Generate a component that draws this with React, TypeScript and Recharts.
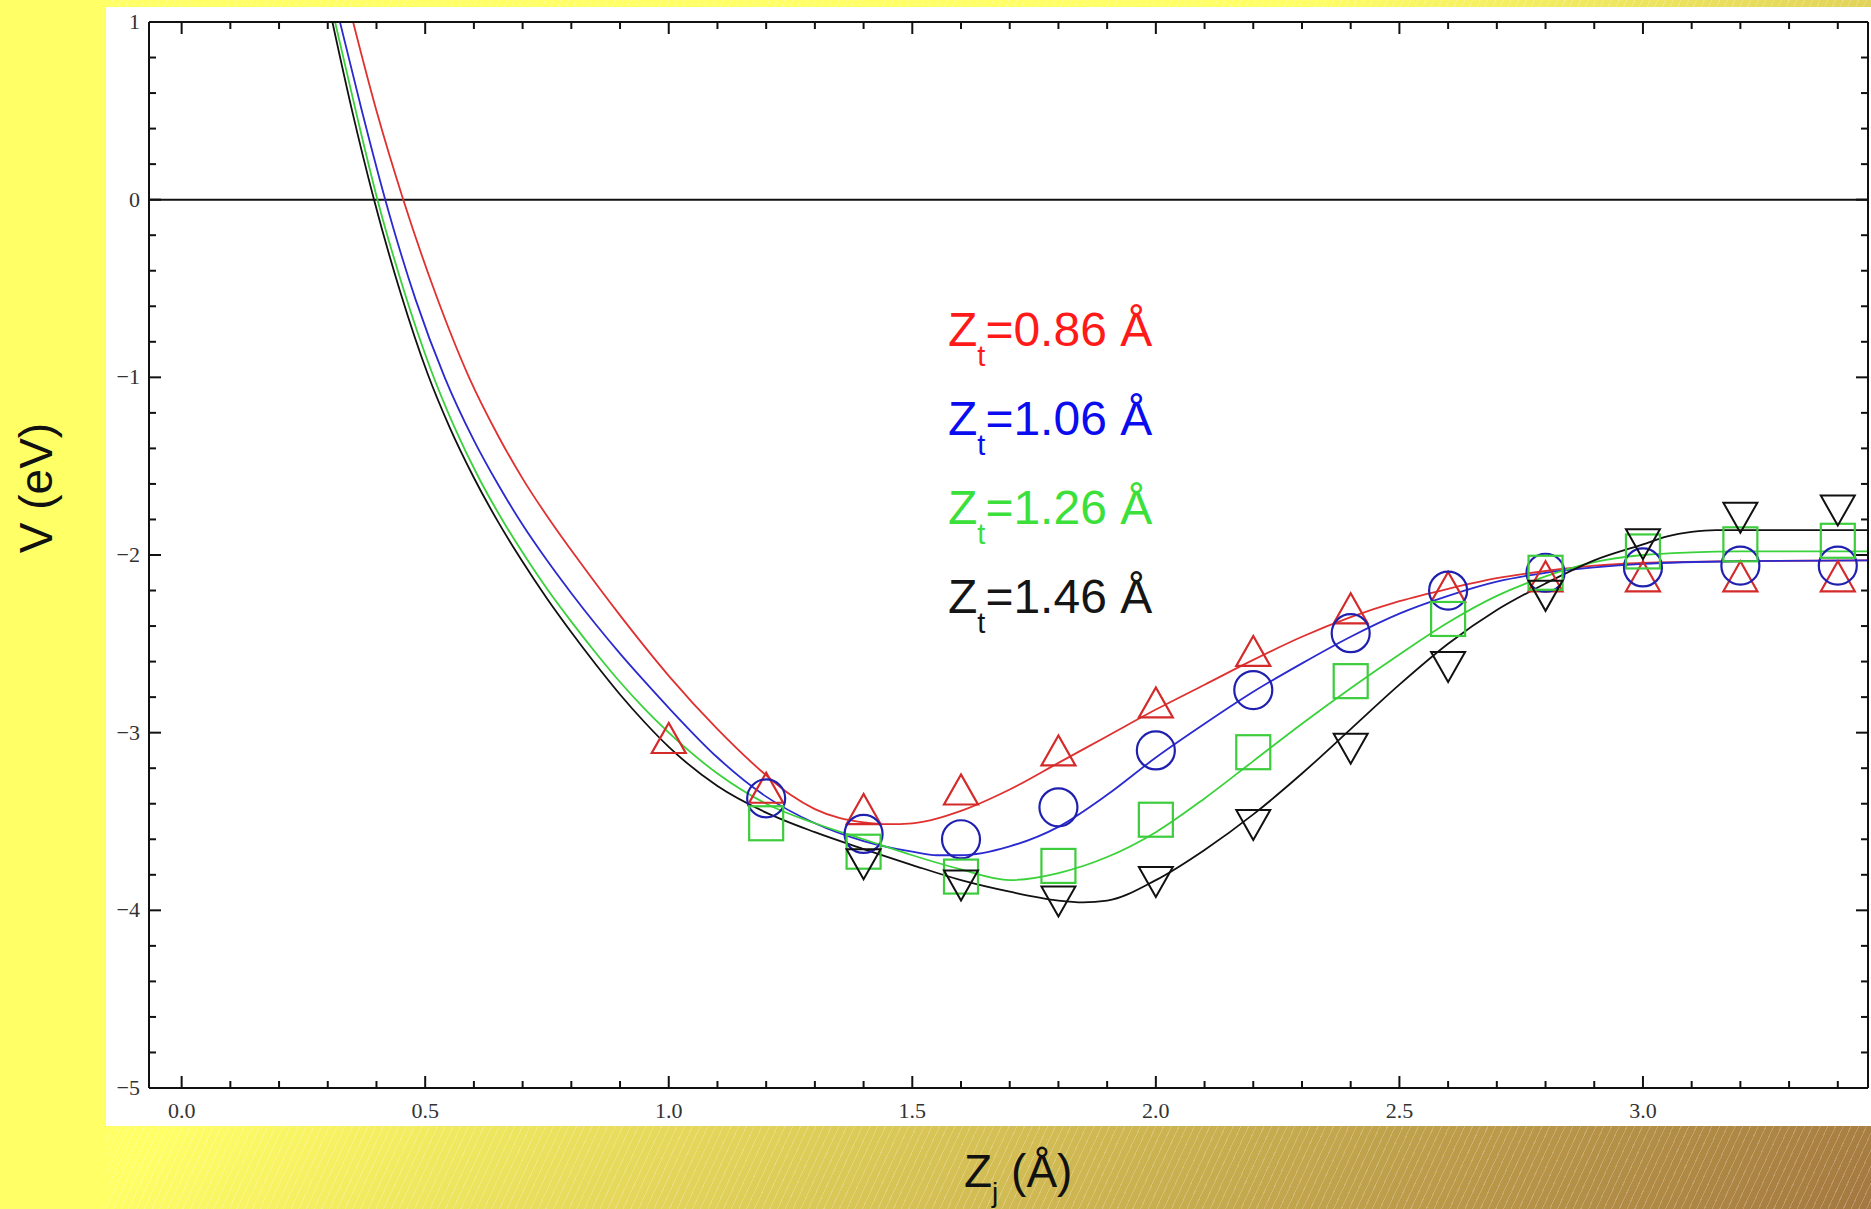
import React from "react";
import { ComposedChart, Line, Scatter, XAxis, YAxis, ReferenceLine } from "recharts";

// fitted curves
const redCurveX = [0.352, 0.4, 0.455, 0.52, 0.59, 0.65, 0.7, 0.76, 0.815, 0.9, 1.0, 1.1, 1.2, 1.25, 1.3, 1.35, 1.4, 1.45, 1.5, 1.6, 1.7, 1.8, 1.9, 2.0, 2.1, 2.2, 2.3, 2.4, 2.5, 2.6, 2.7, 2.8, 2.9, 3.0, 3.2, 3.46];
const redCurveY = [1.0, 0.5, 0.0, -0.52, -1.0, -1.33, -1.57, -1.82, -2.03, -2.34, -2.68, -2.98, -3.24, -3.35, -3.43, -3.48, -3.505, -3.515, -3.51, -3.44, -3.32, -3.17, -3.02, -2.87, -2.73, -2.59, -2.46, -2.35, -2.26, -2.19, -2.13, -2.09, -2.06, -2.045, -2.035, -2.03];

const blueCurveX = [0.325, 0.37, 0.418, 0.48, 0.54, 0.6, 0.65, 0.7, 0.75, 0.8, 0.85, 0.9, 0.95, 1.0, 1.1, 1.2, 1.3, 1.4, 1.5, 1.55, 1.6, 1.7, 1.8, 1.9, 2.0, 2.1, 2.2, 2.3, 2.4, 2.5, 2.6, 2.7, 2.8, 2.9, 3.0, 3.2, 3.46];
const blueCurveY = [1.0, 0.5, 0.0, -0.56, -1.0, -1.355, -1.605, -1.83, -2.03, -2.215, -2.39, -2.555, -2.71, -2.86, -3.14, -3.36, -3.51, -3.61, -3.67, -3.69, -3.69, -3.64, -3.53, -3.35, -3.14, -2.95, -2.77, -2.61, -2.46, -2.33, -2.23, -2.15, -2.1, -2.07, -2.05, -2.035, -2.03];

const greenCurveX = [0.315, 0.36, 0.402, 0.455, 0.512, 0.56, 0.61, 0.66, 0.708, 0.75, 0.8, 0.85, 0.9, 0.95, 1.0, 1.1, 1.2, 1.3, 1.4, 1.5, 1.6, 1.7, 1.8, 1.9, 2.0, 2.1, 2.2, 2.3, 2.4, 2.5, 2.6, 2.7, 2.8, 2.9, 3.0, 3.1, 3.2, 3.46];
const greenCurveY = [1.0, 0.47, 0.0, -0.5, -0.96, -1.28, -1.565, -1.81, -2.02, -2.19, -2.375, -2.55, -2.715, -2.865, -3.0, -3.23, -3.4, -3.51, -3.6, -3.69, -3.77, -3.83, -3.79, -3.7, -3.56, -3.37, -3.16, -2.95, -2.75, -2.56, -2.38, -2.23, -2.12, -2.04, -2.0, -1.985, -1.98, -1.98];

const blackCurveX = [0.3095, 0.35, 0.395, 0.45, 0.505, 0.55, 0.6, 0.65, 0.698, 0.75, 0.8, 0.85, 0.9, 0.95, 1.0, 1.1, 1.2, 1.3, 1.4, 1.5, 1.6, 1.7, 1.8, 1.85, 1.9, 2.0, 2.1, 2.2, 2.3, 2.4, 2.5, 2.6, 2.7, 2.8, 2.9, 3.0, 3.05, 3.1, 3.15, 3.2, 3.46];
const blackCurveY = [1.0, 0.5, 0.0, -0.53, -0.98, -1.28, -1.565, -1.815, -2.03, -2.245, -2.435, -2.615, -2.785, -2.94, -3.08, -3.3, -3.45, -3.56, -3.655, -3.745, -3.83, -3.895, -3.945, -3.955, -3.945, -3.83, -3.66, -3.46, -3.23, -2.98, -2.73, -2.5, -2.31, -2.16, -2.03, -1.94, -1.895, -1.87, -1.86, -1.86, -1.86];

// computed points (markers)
const redPointX = [1.0, 1.2, 1.4, 1.6, 1.8, 2.0, 2.2, 2.4, 2.6, 2.8, 3.0, 3.2, 3.4];
const redPointY = [-3.03, -3.31, -3.43, -3.32, -3.1, -2.83, -2.54, -2.3, -2.18, -2.12, -2.12, -2.12, -2.12];
const bluePointX = [1.2, 1.4, 1.6, 1.8, 2.0, 2.2, 2.4, 2.6, 2.8, 3.0, 3.2, 3.4];
const bluePointY = [-3.37, -3.57, -3.6, -3.42, -3.1, -2.76, -2.44, -2.2, -2.1, -2.07, -2.06, -2.06];
const greenPointX = [1.2, 1.4, 1.6, 1.8, 2.0, 2.2, 2.4, 2.6, 2.8, 3.0, 3.2, 3.4];
const greenPointY = [-3.51, -3.67, -3.81, -3.75, -3.49, -3.11, -2.71, -2.36, -2.1, -1.98, -1.94, -1.92];
const blackPointX = [1.4, 1.6, 1.8, 2.0, 2.2, 2.4, 2.6, 2.8, 3.0, 3.2, 3.4];
const blackPointY = [-3.74, -3.86, -3.95, -3.84, -3.52, -3.09, -2.63, -2.23, -1.94, -1.79, -1.75];

const legendLabels = ["=0.86 Å", "=1.06 Å", "=1.26 Å", "=1.46 Å"];

const xTicks = [0.0, 0.1, 0.2, 0.3, 0.4, 0.5, 0.6, 0.7, 0.8, 0.9, 1.0, 1.1, 1.2, 1.3, 1.4, 1.5, 1.6, 1.7, 1.8, 1.9, 2.0, 2.1, 2.2, 2.3, 2.4, 2.5, 2.6, 2.7, 2.8, 2.9, 3.0, 3.1, 3.2, 3.3, 3.4];
const xLabelTicks = [0.0, 0.5, 1.0, 1.5, 2.0, 2.5, 3.0];
const yTicks = [-5, -4.8, -4.6, -4.4, -4.2, -4, -3.8, -3.6, -3.4, -3.2, -3, -2.8, -2.6, -2.4, -2.2, -2, -1.8, -1.6, -1.4, -1.2, -1, -0.8, -0.6, -0.4, -0.2, 0, 0.2, 0.4, 0.6, 0.8, 1];
const yLabelTicks = [-5, -4, -3, -2, -1, 0, 1];

const zip = (xs: number[], ys: number[]) => xs.map((x, i) => ({ x, y: ys[i] }));

const isIn = (list: number[], v: number) => list.some((t) => Math.abs(t - v) < 1e-6);

const AXIS = "#111";
const TICK_FONT = "'Liberation Serif', 'DejaVu Serif', serif";
const SANS = "'Liberation Sans', Arial, sans-serif";

const BottomTick = (props: any) => {
  const { x, y, payload } = props;
  const major = isIn(xLabelTicks, payload.value);
  return (
    <g>
      <line x1={x} y1={y} x2={x} y2={y - (major ? 12 : 7)} stroke={AXIS} strokeWidth={2} />
      {major && (
        <text x={x} y={y + 30} textAnchor="middle" fontFamily={TICK_FONT} fontSize={22} fill="#333">
          {payload.value.toFixed(1)}
        </text>
      )}
    </g>
  );
};

const TopTick = (props: any) => {
  const { x, y, payload } = props;
  const major = isIn(xLabelTicks, payload.value);
  return <line x1={x} y1={y} x2={x} y2={y + (major ? 12 : 7)} stroke={AXIS} strokeWidth={2} />;
};

const LeftTick = (props: any) => {
  const { x, y, payload } = props;
  const major = isIn(yLabelTicks, payload.value);
  const v = payload.value;
  return (
    <g>
      <line x1={x} y1={y} x2={x + (major ? 12 : 7)} y2={y} stroke={AXIS} strokeWidth={2} />
      {major && (
        <text x={x - 9} y={y + 7} textAnchor="end" fontFamily={TICK_FONT} fontSize={22} fill="#333">
          {v < 0 ? "\u2212" + Math.abs(v) : String(v)}
        </text>
      )}
    </g>
  );
};

const RightTick = (props: any) => {
  const { x, y, payload } = props;
  const major = isIn(yLabelTicks, payload.value);
  return <line x1={x} y1={y} x2={x - (major ? 12 : 7)} y2={y} stroke={AXIS} strokeWidth={2} />;
};

const TriangleUp = (props: any) => {
  const { cx, cy } = props;
  return (
    <polygon
      points={`${cx},${cy - 15} ${cx - 17},${cy + 15} ${cx + 17},${cy + 15}`}
      fill="none"
      stroke="#d42a2a"
      strokeWidth={2.2}
    />
  );
};

const OpenCircle = (props: any) => {
  const { cx, cy } = props;
  return <circle cx={cx} cy={cy} r={19} fill="none" stroke="#2020b0" strokeWidth={2.2} />;
};

const OpenSquare = (props: any) => {
  const { cx, cy } = props;
  return <rect x={cx - 17} y={cy - 17} width={34} height={34} fill="none" stroke="#3ccc3c" strokeWidth={2.2} />;
};

const TriangleDown = (props: any) => {
  const { cx, cy } = props;
  return (
    <polygon
      points={`${cx - 17},${cy - 15} ${cx + 17},${cy - 15} ${cx},${cy + 15}`}
      fill="none"
      stroke="#111"
      strokeWidth={2}
    />
  );
};

const series = [
  { name: "red", curve: zip(redCurveX, redCurveY), points: zip(redPointX, redPointY), line: "#e03030", text: "#ff1a1a", shape: TriangleUp },
  { name: "blue", curve: zip(blueCurveX, blueCurveY), points: zip(bluePointX, bluePointY), line: "#2a2ad0", text: "#0b0bef", shape: OpenCircle },
  { name: "green", curve: zip(greenCurveX, greenCurveY), points: zip(greenPointX, greenPointY), line: "#3ad23a", text: "#3be03b", shape: OpenSquare },
  { name: "black", curve: zip(blackCurveX, blackCurveY), points: zip(blackPointX, blackPointY), line: "#111", text: "#151515", shape: TriangleDown },
];

const xDomain: [number, number] = [-0.067, 3.462];
const yDomain: [number, number] = [-5, 1];

export default function App() {
  return (
    <div style={{ position: "absolute", left: 0, top: 0, width: 1871, height: 1209, background: "#ffff66", overflow: "hidden" }}>
      <div
        style={{
          position: "absolute",
          left: 106,
          top: 0,
          width: 1765,
          height: 1209,
          background:
            "repeating-linear-gradient(115deg, rgba(255,255,255,0) 0px, rgba(255,255,255,0) 6px, rgba(255,255,255,0.22) 6px, rgba(255,255,255,0.22) 7px), linear-gradient(135deg, #ffff66 40%, #a47840 100%)",
        }}
      />
      <div style={{ position: "absolute", left: 106, top: 7, width: 1765, height: 1119, background: "#fff" }}>
        <ComposedChart width={1765} height={1119} margin={{ top: 14, right: 2, bottom: 37, left: 42 }}>
          <XAxis
            xAxisId="bottom"
            dataKey="x"
            type="number"
            domain={xDomain}
            allowDataOverflow
            ticks={xTicks}
            interval={0}
            height={1}
            tickSize={0}
            tickMargin={0}
            tickLine={false}
            tick={<BottomTick />}
            axisLine={{ stroke: AXIS, strokeWidth: 2 }}
          />
          <XAxis
            xAxisId="top"
            orientation="top"
            dataKey="x"
            type="number"
            domain={xDomain}
            allowDataOverflow
            ticks={xTicks}
            interval={0}
            height={1}
            tickSize={0}
            tickMargin={0}
            tickLine={false}
            tick={<TopTick />}
            axisLine={{ stroke: AXIS, strokeWidth: 2 }}
          />
          <YAxis
            yAxisId="left"
            dataKey="y"
            type="number"
            domain={yDomain}
            allowDataOverflow
            ticks={yTicks}
            interval={0}
            width={1}
            tickSize={0}
            tickMargin={0}
            tickLine={false}
            tick={<LeftTick />}
            axisLine={{ stroke: AXIS, strokeWidth: 2 }}
          />
          <YAxis
            yAxisId="right"
            orientation="right"
            dataKey="y"
            type="number"
            domain={yDomain}
            allowDataOverflow
            ticks={yTicks}
            interval={0}
            width={1}
            tickSize={0}
            tickMargin={0}
            tickLine={false}
            tick={<RightTick />}
            axisLine={{ stroke: AXIS, strokeWidth: 2 }}
          />
          <ReferenceLine xAxisId="bottom" yAxisId="left" y={0} stroke={AXIS} strokeWidth={2} />
          {series.map((s) => (
            <Line
              key={`line-${s.name}`}
              xAxisId="bottom"
              yAxisId="left"
              data={s.curve}
              dataKey="y"
              type="monotone"
              stroke={s.line}
              strokeWidth={1.8}
              dot={false}
              activeDot={false}
              isAnimationActive={false}
            />
          ))}
          {series.map((s) => (
            <Scatter
              key={`pts-${s.name}`}
              xAxisId="bottom"
              yAxisId="left"
              data={s.points}
              dataKey="y"
              shape={s.shape}
              isAnimationActive={false}
            />
          ))}
        </ComposedChart>
      </div>
      <svg width={1871} height={1209} style={{ position: "absolute", left: 0, top: 0, pointerEvents: "none" }}>
        {series.map((s, i) => (
          <text key={s.name} x={948} y={346 + i * 89} fontFamily={SANS} fontSize={48} fill={s.text}>
            Z
            <tspan dy={20} fontSize={29}>t</tspan>
            <tspan dy={-20}>{legendLabels[i]}</tspan>
          </text>
        ))}
        <text transform="translate(52,488) rotate(-90)" textAnchor="middle" fontFamily={SANS} fontSize={46} fill="#111">
          V (eV)
        </text>
        <text x={964} y={1187} fontFamily={SANS} fontSize={46} fill="#111">
          Z
          <tspan dy={15} fontSize={28}>j</tspan>
          <tspan dy={-15}> (Å)</tspan>
        </text>
      </svg>
    </div>
  );
}
